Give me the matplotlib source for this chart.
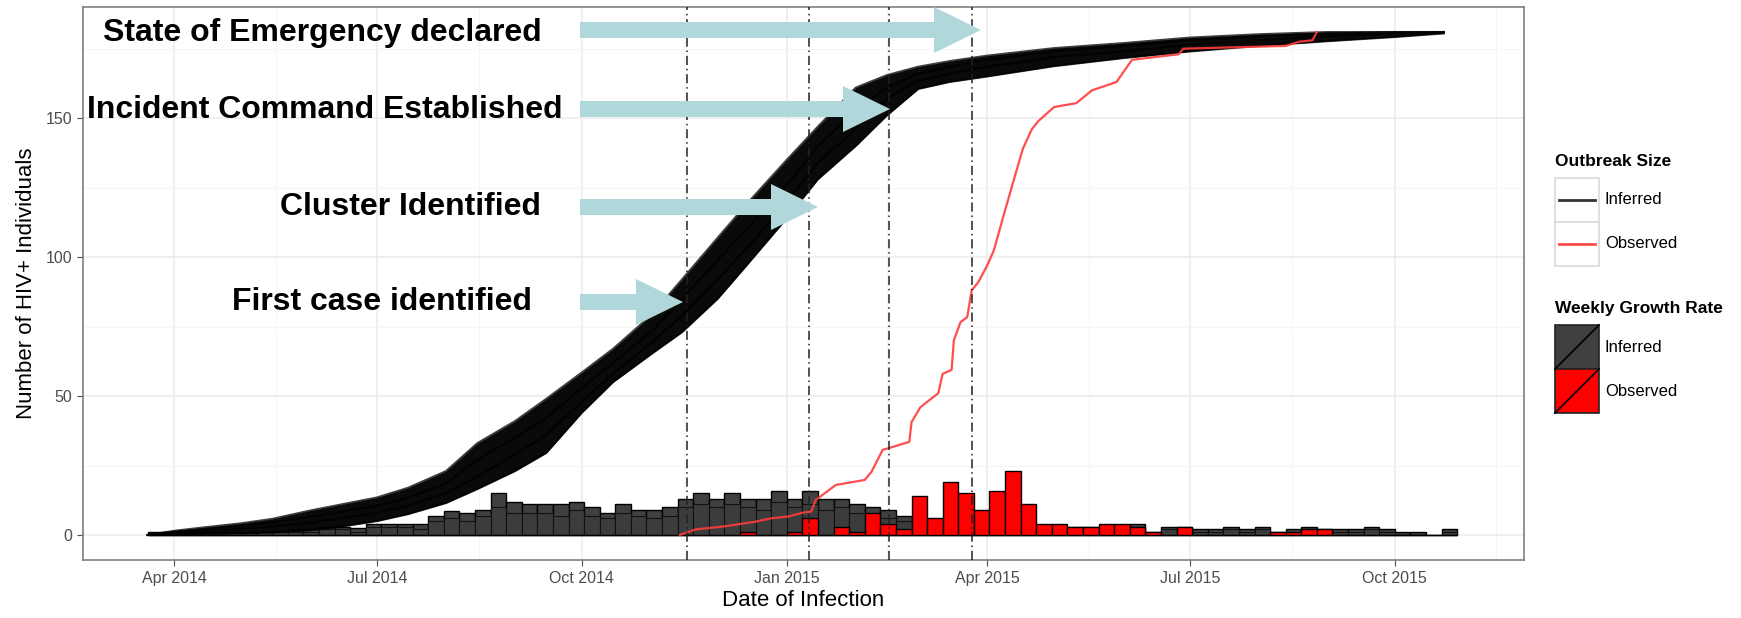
import numpy as np
import matplotlib
matplotlib.use("Agg")
import matplotlib.pyplot as plt
import matplotlib.dates as mdates
from matplotlib.patches import FancyArrow, Rectangle

plt.rcParams['font.family'] = ['Liberation Sans', 'DejaVu Sans']

# cumulative inferred outbreak size, a few runs
curve_dates = ['2014-03-20', '2014-04-01', '2014-04-15', '2014-05-01', '2014-05-15',
               '2014-06-01', '2014-06-15', '2014-07-01', '2014-07-15', '2014-08-01',
               '2014-08-15', '2014-09-01', '2014-09-15', '2014-10-01', '2014-10-15',
               '2014-11-01', '2014-11-15', '2014-12-01', '2014-12-15', '2015-01-01',
               '2015-01-15', '2015-02-01', '2015-02-15', '2015-03-01', '2015-03-15',
               '2015-04-01', '2015-05-01', '2015-06-01', '2015-07-01', '2015-08-01',
               '2015-09-01', '2015-10-01', '2015-10-23']
run_early = [0, 1.5, 2.8, 4.2, 5.8, 8.8, 11, 13.5, 17, 23, 33, 41, 49, 58.5, 67, 79, 92,
             107, 120, 135, 147, 161, 165.5, 168.5, 170.5, 172.5, 175.2, 177, 179, 180.2,
             181, 181, 181]
run_mid_a = [0, 1.2, 2.2, 3.3, 4.5, 6.5, 8.3, 10.5, 13.5, 18.5, 27, 35, 42, 53, 62, 73, 85,
             99, 111, 126, 140, 153, 161, 166, 168.5, 171, 174, 176, 178, 179.5, 180.5, 181, 181]
run_mid_b = [0, 0.7, 1.4, 2.2, 3, 4.5, 6, 8, 10.5, 15, 21, 29, 36, 48, 58, 69, 79, 92, 104,
             120, 134, 146, 157, 163.5, 166, 168.5, 172, 174, 176.5, 178, 179.5, 180.5, 181]
run_late = [0, 0.2, 0.4, 0.6, 0.9, 1.7, 3, 5, 7.5, 11.5, 16.5, 23, 29.5, 44, 55, 65, 73, 85,
            98, 114, 128, 140, 151, 160.5, 163, 165, 168.7, 171.6, 174, 176, 177.7, 179.2, 180.5]

# cumulative observed cases
observed_dates = ['2014-11-14', '2014-11-21', '2014-12-03', '2014-12-18', '2014-12-25',
                  '2015-01-02', '2015-01-08', '2015-01-12', '2015-01-14', '2015-01-23',
                  '2015-02-05', '2015-02-08', '2015-02-13', '2015-02-25', '2015-02-26',
                  '2015-03-02', '2015-03-10', '2015-03-12', '2015-03-16', '2015-03-17',
                  '2015-03-20', '2015-03-23', '2015-03-25', '2015-03-28', '2015-04-01',
                  '2015-04-04', '2015-04-08', '2015-04-13', '2015-04-17', '2015-04-21',
                  '2015-04-24', '2015-05-01', '2015-05-11', '2015-05-18', '2015-05-29',
                  '2015-06-05', '2015-06-26', '2015-06-28', '2015-08-13', '2015-08-19',
                  '2015-08-25', '2015-08-27']
observed_cum = [0, 2, 3, 4.8, 6, 6.7, 8, 8.5, 12.6, 18, 19.8, 22.7, 30.6, 33.5, 40.6, 46,
                51, 58, 59.4, 70, 76.6, 78.4, 88, 91, 97, 102.5, 114, 128, 139, 146, 149,
                154, 155.4, 160, 163, 171, 173, 175, 176, 177.5, 178, 181]

# weekly new infections, weeks starting 2014-03-20
first_week = '2014-03-20'
inferred_weekly = [1, 1, 1, 1, 1, 1, 1, 1, 1, 2, 2, 3, 3, 2.5, 4, 4, 4, 4, 7, 8.5, 8, 9,
                   15, 12, 11, 11, 11, 12, 10, 8, 11, 9, 9, 10, 13, 15, 13, 15, 13, 13, 16,
                   13, 16, 13, 13, 11, 10, 9, 7, 5, 5, 4, 4, 4, 3, 3, 3, 3, 3, 3, 3, 3, 3,
                   4, 1, 3, 3, 2, 2, 3, 2, 3, 1, 2, 3, 2, 2, 2, 3, 2, 1, 1, 0, 2]
inferred_weekly_low = [0, 0, 0, 1, 0, 1, 0, 1, 1, 1, 1, 2, 2, 1, 3, 3, 3, 2, 5, 6, 5, 7,
                       10, 8, 8, 8, 7, 9, 7, 6, 8, 7, 6, 7, 10, 11, 10, 11, 10, 9, 12, 10,
                       11, 9, 10, 8, 7, 6, 5, 4, 4, 3, 3, 3, 3, 2, 2, 2, 2, 2, 2, 2, 2, 2,
                       0, 2, 2, 1, 1, 2, 1, 2, 0, 1, 2, 1, 1, 1, 2, 1, 0, 0, 0, 1]
observed_weekly = [0] * 38 + [1, 0, 0, 1, 6, 0, 3, 1, 8, 4, 2, 14, 6, 19, 15, 9, 16, 23, 11,
                              4, 4, 3, 3, 4, 4, 3, 1, 0, 3, 0, 0, 0, 0, 0, 1, 1, 2, 2,
                              0, 0, 0, 0, 0, 0, 0, 0]

event_dates = ['2014-11-17', '2015-01-11', '2015-02-16', '2015-03-25']
event_labels = ['First case identified', 'Cluster Identified',
                'Incident Command Established', 'State of Emergency declared']

tick_dates = ['2014-04-01', '2014-07-01', '2014-10-01', '2015-01-01',
              '2015-04-01', '2015-07-01', '2015-10-01']
tick_labels = ['Apr 2014', 'Jul 2014', 'Oct 2014', 'Jan 2015',
               'Apr 2015', 'Jul 2015', 'Oct 2015']


def to_num(dates):
    return mdates.date2num(np.array(dates, dtype='datetime64[D]'))


W, H = 1741, 618
fig = plt.figure(figsize=(W / 100, H / 100), dpi=100)
ax = fig.add_axes([83 / W, 1 - 560 / H, (1524 - 83) / W, (560 - 7) / H])

# weekly bars
weeks = mdates.date2num(np.datetime64(first_week) + 7 * np.arange(len(inferred_weekly)))
ax.bar(weeks, inferred_weekly, width=7, align='edge', color='#404040',
       edgecolor='black', linewidth=1, zorder=2)
ax.bar(weeks, inferred_weekly_low, width=7, align='edge', color='#3c3c3c',
       edgecolor='#111111', linewidth=0.8, zorder=2.1)
ax.bar(weeks, observed_weekly, width=7, align='edge', color='#ff0000',
       edgecolor='black', linewidth=1, zorder=3)

# inferred outbreak size band
cd = to_num(curve_dates)
runs = [run_early, run_mid_a, run_mid_b, run_late]
ax.fill_between(cd, run_late, run_early, color='black', alpha=0.96, lw=0, zorder=4)
for r in runs:
    ax.plot(cd, r, color='black', alpha=0.75, lw=1.5, zorder=4)

# observed outbreak size
ax.plot(to_num(observed_dates), observed_cum, color='#ff3b3b', lw=1.6, alpha=0.9, zorder=5)

for d in to_num(event_dates):
    ax.axvline(d, color='#222222', lw=1.1, dashes=(6, 2.5, 1, 2.5), zorder=6)

# axes, theme_bw look
ax.set_xlim(to_num(['2014-02-19'])[0], to_num(['2015-11-28'])[0])
ax.set_ylim(-9, 190)
major = to_num(tick_dates)
ax.set_xticks(major)
ax.set_xticklabels(tick_labels)
step = major[1] - major[0]
ax.set_xticks(np.concatenate([(major[:-1] + major[1:]) / 2, [major[-1] + step / 2]]), minor=True)
ax.set_yticks([0, 50, 100, 150])
ax.set_yticks([25, 75, 125, 175], minor=True)
ax.grid(which='major', color='#ebebeb', lw=1.1)
ax.grid(which='minor', color='#f5f5f5', lw=0.8)
ax.set_axisbelow(True)
ax.tick_params(which='minor', length=0)
ax.tick_params(which='major', length=4, color='#4d4d4d', labelsize=11.5,
               labelcolor='#4d4d4d', pad=4)
for s in ax.spines.values():
    s.set_color('#7f7f7f')
    s.set_linewidth(1.2)
ax.set_xlabel('Date of Infection', fontsize=16, labelpad=3)
ax.set_ylabel('Number of HIV+ Individuals', fontsize=16, labelpad=6)

# overlay in pixel coords for arrows and legend
ov = fig.add_axes([0, 0, 1, 1])
ov.set_zorder(10)
ov.set_xlim(0, W)
ov.set_ylim(H, 0)
ov.axis('off')

teal = '#b0d8db'
arrow_layout = [(232, 310, 302, 683), (280, 215, 207, 818),
                (87, 118, 109, 890), (103, 41, 30, 981)]
for label, (tx, base, ay, tip) in zip(event_labels, arrow_layout):
    ov.add_patch(FancyArrow(580, ay, tip - 580, 0, width=16, head_width=46, head_length=47,
                            length_includes_head=True, fc=teal, ec='none'))
    ov.text(tx, base, label, fontsize=23, fontweight='bold', ha='left', va='baseline')

# legends
ov.text(1555, 162, 'Outbreak Size', fontsize=12.5, fontweight='bold', va='center')
for i, (lab, col) in enumerate([('Inferred', '#333333'), ('Observed', '#ff4d4d')]):
    y0 = 178 + 44 * i
    ov.add_patch(Rectangle((1555, y0), 44, 44, fc='white', ec='#d9d9d9', lw=1.2))
    ov.plot([1559, 1595], [y0 + 22, y0 + 22], color=col, lw=2)
    ov.text(1605, y0 + 22, lab, fontsize=12, va='center')

ov.text(1555, 308, 'Weekly Growth Rate', fontsize=12.5, fontweight='bold', va='center')
for i, (lab, col) in enumerate([('Inferred', '#404040'), ('Observed', '#ff0000')]):
    y0 = 325 + 44 * i
    ov.add_patch(Rectangle((1555, y0), 44, 44, fc=col, ec='#222222', lw=1.2))
    ov.plot([1555, 1599], [y0 + 44, y0], color='black', lw=1.2)
    ov.text(1605, y0 + 22, lab, fontsize=12, va='center')

fig.savefig('out.png', dpi=100)
